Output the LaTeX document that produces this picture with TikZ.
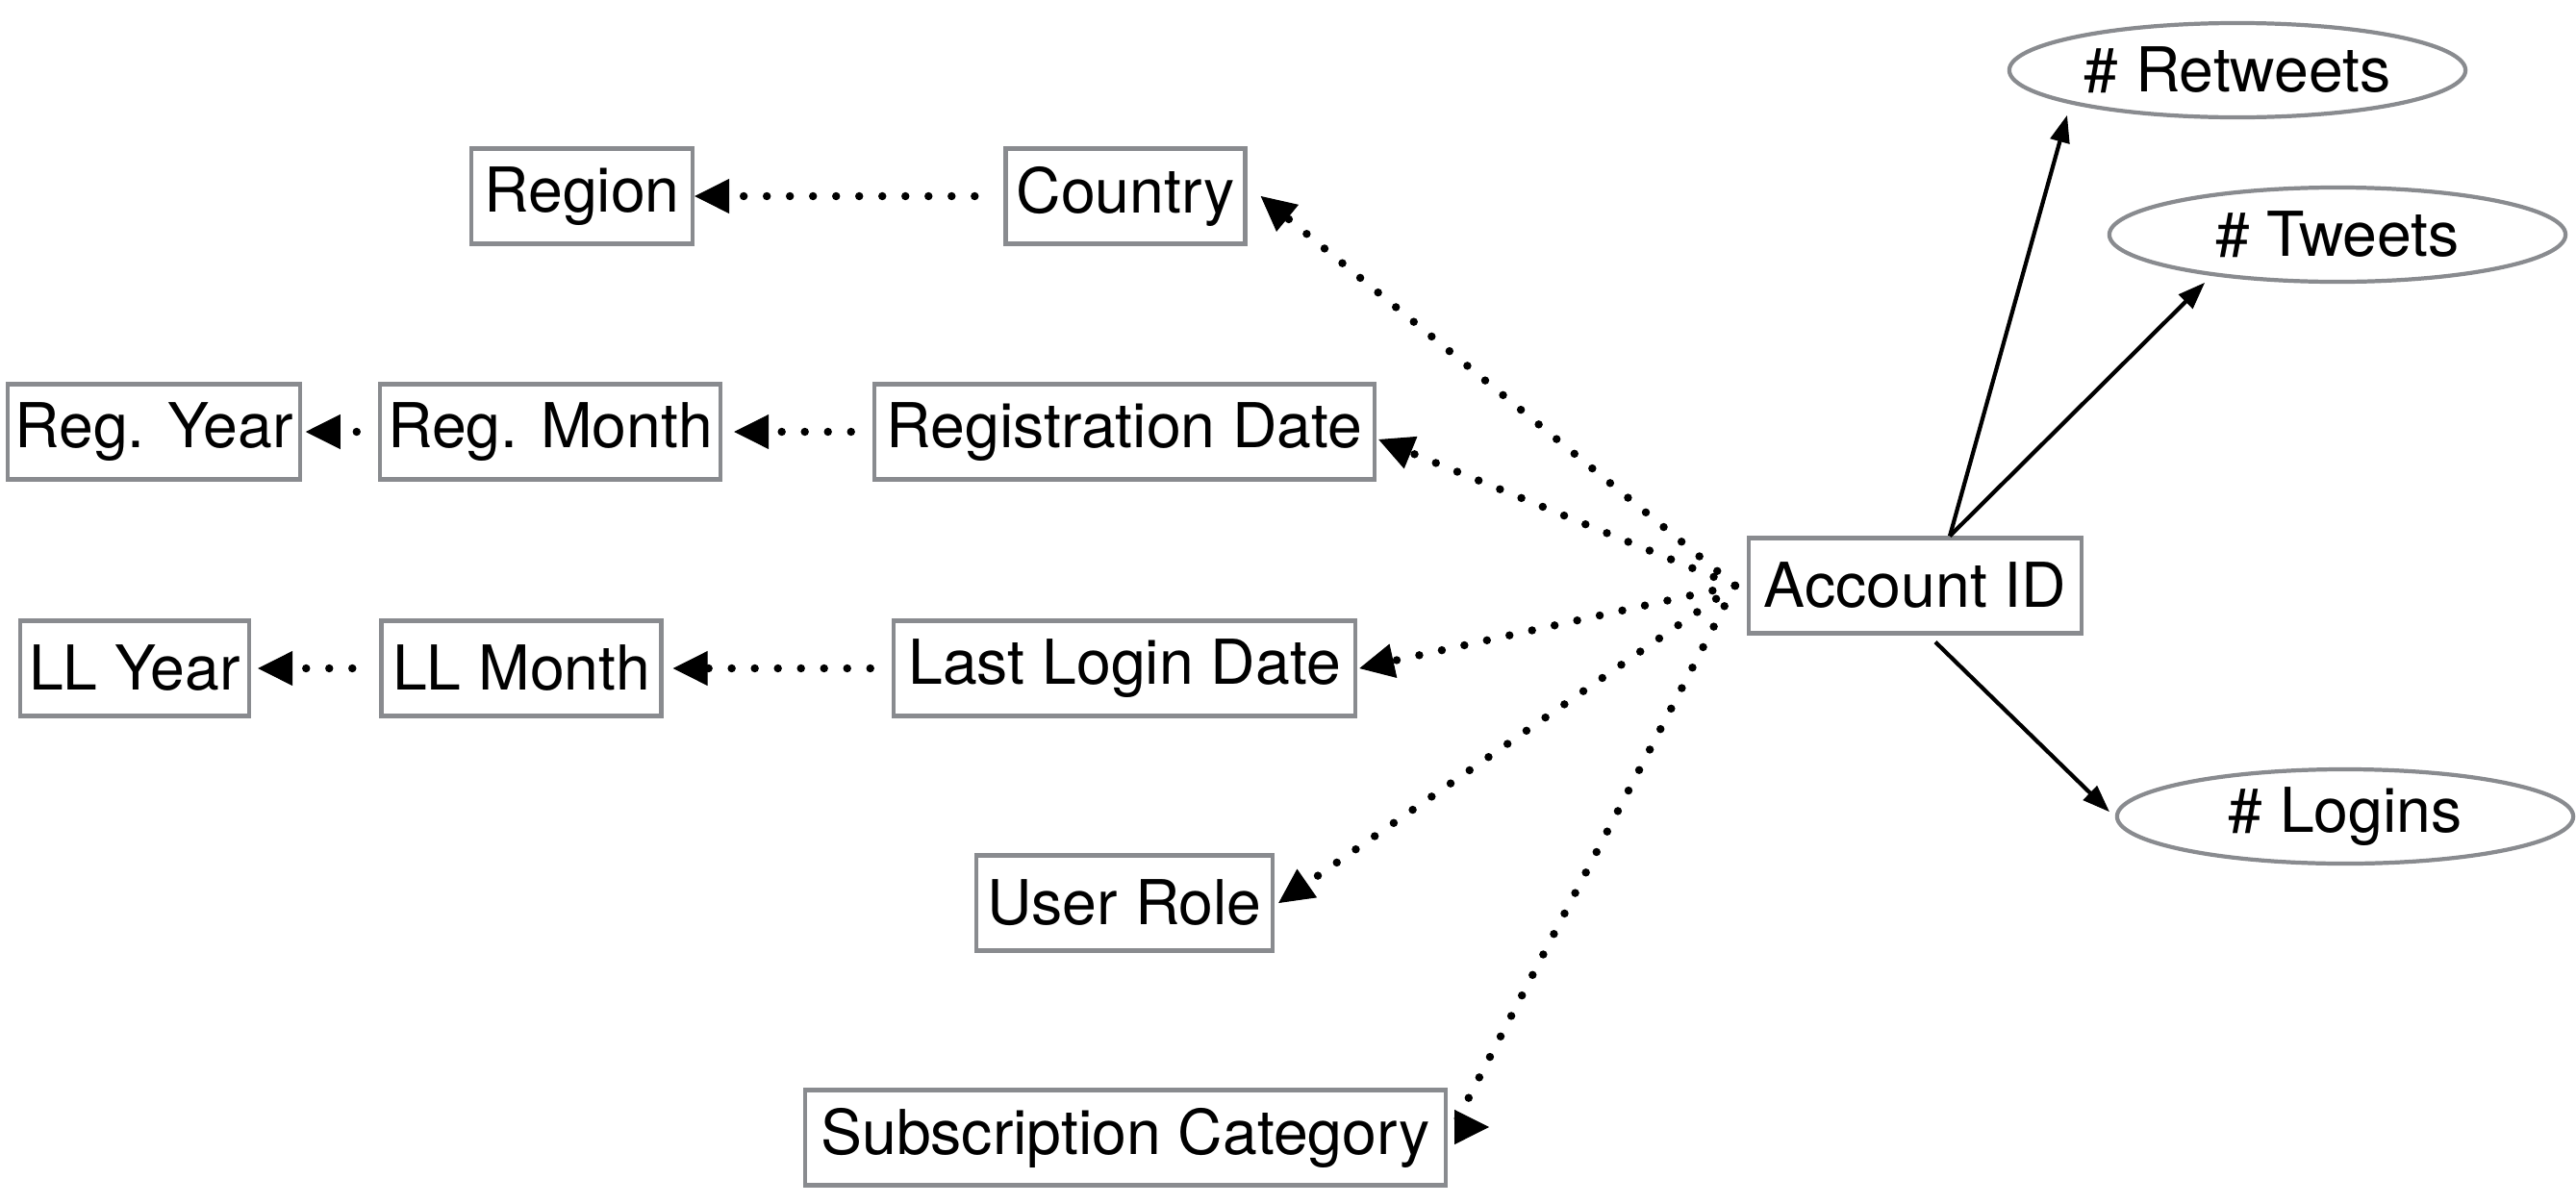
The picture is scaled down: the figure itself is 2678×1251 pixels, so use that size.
\documentclass[tikz,border=0pt]{standalone}
\usepackage{fontspec}
\setmainfont{TeX Gyre Heros}
\usetikzlibrary{arrows.meta,shapes.geometric}
\definecolor{boxgray}{RGB}{137,139,143}

\begin{document}
\begin{tikzpicture}[x=0.01cm, y=-0.01cm,
        attr/.style={draw=boxgray, line width=1.2pt, rectangle, minimum height=0.99cm, inner xsep=2pt, font=\fontsize{18.3}{22}\selectfont},
        measure/.style={draw=boxgray, line width=1.2pt, ellipse, minimum width=4.74cm, minimum height=0.98cm, inner sep=0pt, font=\fontsize{18.3}{22}\selectfont},
        rollup/.style={line width=2.4pt, dash pattern=on 0pt off 0.24cm, line cap=round, -{Triangle[length=0.36cm, width=0.36cm, line width=0.3pt]}},
        hier/.style={rollup, shorten <=0.22cm, shorten >=0.08cm},
        fact/.style={line width=1.2pt, -{Triangle[length=0.28cm, width=0.21cm, line width=0.3pt]}}
    ]
    \useasboundingbox (0,0) rectangle (2678,1251);

    % Attributi
    \node[attr, minimum width=2.30cm] (region) at (605,204) {Region};
    \node[attr, minimum width=2.49cm] (country) at (1170,204) {Country};
    \node[attr, minimum width=3.02cm] (regyear) at (160,449) {Reg. Year};
    \node[attr, minimum width=3.54cm] (regmonth) at (572,449) {Reg. Month};
    \node[attr, minimum width=5.20cm] (regdate) at (1169,449) {Registration Date};
    \node[attr, minimum width=2.38cm] (llyear) at (140,695) {LL Year};
    \node[attr, minimum width=2.91cm] (llmonth) at (542,695) {LL Month};
    \node[attr, minimum width=4.80cm] (lldate) at (1169,695) {Last Login Date};
    \node[attr, minimum width=3.08cm] (role) at (1169,939) {User Role};
    \node[attr, minimum width=6.66cm] (subcat) at (1170,1183) {Subscription Category};
    \node[attr, minimum width=3.46cm] (acc) at (1991,609) {Account ID};

    % Misure
    \node[measure] (retweets) at (2326,73) {\# Retweets};
    \node[measure] (tweets) at (2430,244) {\# Tweets};
    \node[measure] (logins) at (2438,849) {\# Logins};

    % Gerarchie
    \draw[rollup, shorten <=0.3cm] (country) -- (region);
    \draw[hier, shorten >=0.12cm] (regdate) -- (regmonth);
    \draw[hier, shorten >=0.04cm] (regmonth) -- (regyear);
    \draw[hier, shorten >=0.1cm] (lldate) -- (llmonth);
    \draw[hier, shorten <=0.28cm, shorten >=0.07cm] (llmonth) -- (llyear);

    % Dall'ID
    \coordinate (accL) at ([xshift=-0.12cm]acc.west);
    \coordinate (subtip) at (1511,1172);
    \draw[rollup] (accL) -- ([xshift=0.14cm]country.east);
    \draw[rollup] (accL) -- ([xshift=0.02cm, yshift=-0.08cm]regdate.east);
    \draw[rollup] (accL) -- ([xshift=0.02cm]lldate.east);
    \draw[rollup] (accL) -- ([xshift=0.04cm]role.east);
    \draw[rollup] (accL) -- (subtip) -- ++(0.37cm,0);

    \coordinate (acctop) at ([xshift=0.36cm]acc.north);
    \draw[fact] (acctop) -- ([shift={(-1.77cm,-0.47cm)}]retweets.center);
    \draw[fact] (acctop) -- ([shift={(-1.38cm,-0.50cm)}]tweets.center);
    \draw[fact] ([xshift=0.21cm, yshift=-0.07cm]acc.south) -- ([xshift=-0.06cm, yshift=0.05cm]logins.west);
\end{tikzpicture}
\end{document}
